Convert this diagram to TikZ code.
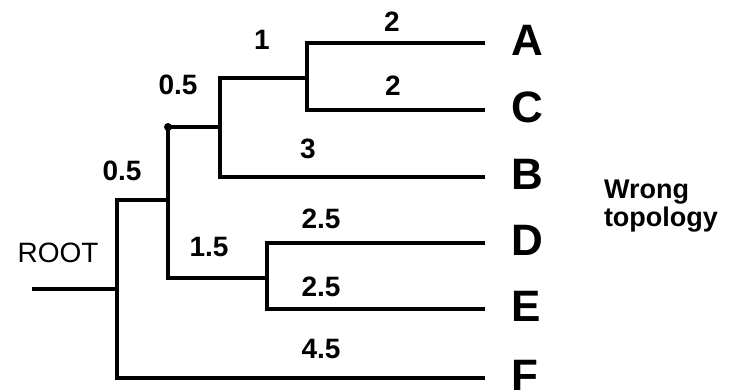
\documentclass[tikz,border=0pt]{standalone}
\usepackage{fontspec}
\setmainfont{Liberation Sans}
\begin{document}
\begin{tikzpicture}[x=1pt,y=-1pt,line width=4pt,
  leaf/.style={anchor=west,inner xsep=24pt,inner ysep=0pt,text depth=6pt,font=\fontsize{44}{46}\selectfont\bfseries},
  len/.style={inner sep=0pt,font=\fontsize{28}{30}\selectfont\bfseries}]
\useasboundingbox (0,0) rectangle (740,390);
% inner nodes
\coordinate (r) at (32,289);
\coordinate (root) at (117,289);
\coordinate (n1) at (168,200);
\coordinate (n2) at (220,127);
\coordinate (n3) at (307,78);
\coordinate (n4) at (267,278);
% leaves
\node (A) [leaf] at (485,43) {A};
\node (C) [leaf] at (485,110) {C};
\node (B) [leaf] at (485,177) {B};
\node (D) [leaf] at (485,243) {D};
\node (E) [leaf] at (485,309) {E};
\node (F) [leaf] at (485,378) {F};
% branches
\draw (r) -- (root);
\draw (root) |- (n1);
\draw (root) |- (F);
\draw (n1) |- (n2);
\draw (n1) |- (n4);
\draw (n2) |- (n3);
\draw (n2) |- (B);
\draw (n3) |- (A);
\draw (n3) |- (C);
\draw (n4) |- (D);
\draw (n4) |- (E);
\node (dot) [circle,fill,inner sep=0pt,minimum size=8pt] at (n1 |- n2) {};
% branch lengths
\node (lA) [len] at (392,22) {2};
\node (lC) [len] at (393,86) {2};
\node (l3) [len] at (262,40) {1};
\node (l2) [len] at (178,85) {0.5};
\node (lB) [len] at (308,149) {3};
\node (l1) [len] at (122,171) {0.5};
\node (lD) [len] at (321,219) {2.5};
\node (l4) [len] at (209,247) {1.5};
\node (lE) [len] at (321,287) {2.5};
\node (lF) [len] at (321,349) {4.5};
\node (rootlbl) [inner sep=0pt,font=\fontsize{28}{30}\selectfont] at (58,253) {ROOT};
\node (note) [anchor=west,align=left,inner sep=0pt,font=\fontsize{27}{28}\selectfont\bfseries] at (602,206) {Wrong\\topology};
\end{tikzpicture}
\end{document}
